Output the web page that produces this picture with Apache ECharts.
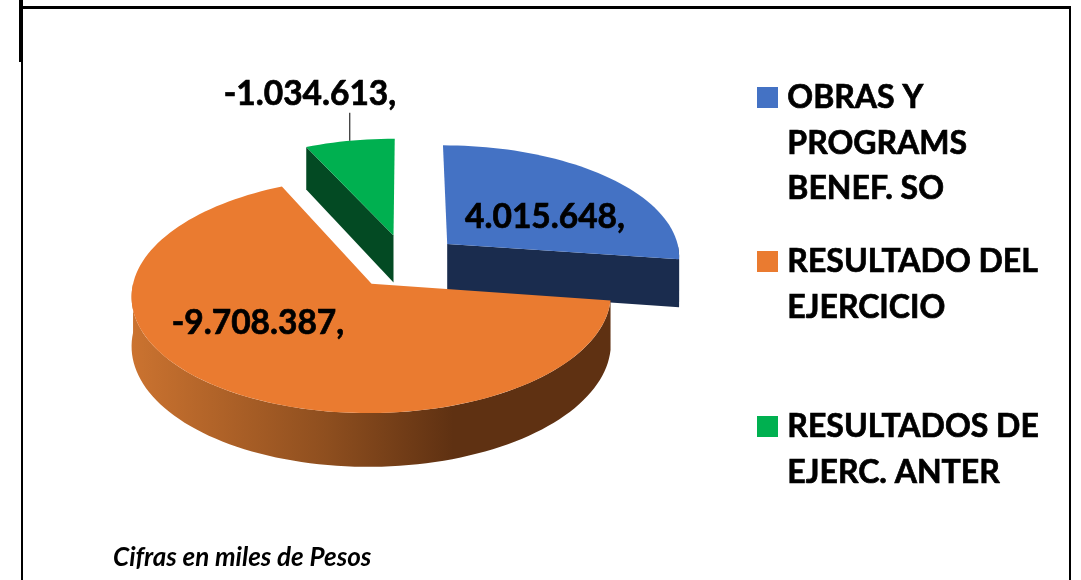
<!DOCTYPE html>
<html>
<head>
<meta charset="utf-8">
<style>
  html, body { margin: 0; background: #fff; }
  #chart { width: 1081px; height: 580px; }
</style>
<script src="https://cdn.jsdelivr.net/npm/echarts@6/dist/echarts.min.js"></script>
</head>
<body>
<div id="chart"></div>
<script>
const categorias = ['OBRAS Y\nPROGRAMS\nBENEF. SO', 'RESULTADO DEL\nEJERCICIO', 'RESULTADOS DE\nEJERC. ANTER'];
const valores = [4015648, -9708387, -1034613];
const etiquetas = ['4.015.648,', '-9.708.387,', '-1.034.613,'];
const colores = ['#4472c4', '#ea7b30', '#00b050'];
const nota = 'Cifras en miles de Pesos';

const FONT = 'Lato, Carlito, sans-serif';
const INK = '#000';
// Lato bold is a bit lighter than the original face
const heavy = {fill: INK, stroke: INK, lineWidth: 0.7};

// 3D view of the pie
const view = {cx: 405.5, cy: 261.5, rx: 234, ry: 113.5, persp: 0.1, depth: 48, explode: 0.24};
const wallFills = [
  '#1a2c4e',
  new echarts.graphic.LinearGradient(131, 0, 453, 0, [
    {offset: 0, color: '#cb7330'},
    {offset: 0.6, color: '#8f4f1f'},
    {offset: 1, color: '#5f3112'}
  ], true),
  '#034a23'
];
// paint order: back slices first
const stacking = [2, 3, 1];
const labelPos = [[545, 217], [258, 323], [310, 94]];
const legendTop = [87, 251, 416];

const total = valores.reduce((sum, v) => sum + Math.abs(v), 0);
let acc = 0;
const slices = valores.map(v => {
  const start = acc;
  acc += Math.abs(v) / total * 360;
  return {start, end: acc};
});

const rad = deg => deg * Math.PI / 180;

// X right, Y towards the viewer, angle clockwise from the back of the pie
const project = (X, Y, down) => {
  const s = 1 + view.persp * Y;
  return [
    view.cx + view.rx * X * s,
    view.cy + view.ry * Y * s + (down ? view.depth * s : 0)
  ];
};

const pointOf = (slice, radius, deg, down) => {
  const mid = rad((slice.start + slice.end) / 2);
  const X = view.explode * Math.sin(mid) + radius * Math.sin(rad(deg));
  const Y = -view.explode * Math.cos(mid) - radius * Math.cos(rad(deg));
  return project(X, Y, down);
};

const arcOf = (slice, from, to, down) => {
  const pts = [];
  const steps = Math.max(2, Math.ceil((to - from) / 2));
  for (let i = 0; i <= steps; i++) {
    pts.push(pointOf(slice, 1, from + (to - from) * i / steps, down));
  }
  return pts;
};

const renderSlice = (params) => {
  const i = params.dataIndex;
  const slice = slices[i];
  const z2 = stacking[i];
  const children = [];
  const poly = (points, fill) => children.push({
    type: 'polygon', z2, shape: {points}, style: {fill, stroke: null}
  });

  // cut faces that look at the viewer
  [[slice.start, -90], [slice.end, 90]].forEach(([deg, turn]) => {
    if (-Math.cos(rad(deg + turn)) > 0.01) {
      poly([
        pointOf(slice, 0, deg), pointOf(slice, 1, deg),
        pointOf(slice, 1, deg, true), pointOf(slice, 0, deg, true)
      ], wallFills[i]);
    }
  });

  // outer wall, front half only
  const from = Math.max(slice.start, 90);
  const to = Math.min(slice.end, 270);
  if (to > from) {
    poly(arcOf(slice, from, to).concat(arcOf(slice, from, to, true).reverse()), wallFills[i]);
  }

  // top face
  poly([pointOf(slice, 0, slice.start)].concat(arcOf(slice, slice.start, slice.end)), colores[i]);

  // leader line for the small slice
  if (Math.abs(valores[i]) / total < 0.1) {
    const rim = pointOf(slice, 1, (slice.start + slice.end) / 2);
    children.push({
      type: 'line', z2,
      shape: {x1: rim[0], y1: rim[1], x2: rim[0], y2: rim[1] - 28},
      style: {stroke: INK, lineWidth: 1}
    });
  }

  children.push({
    type: 'text', z2: 10,
    style: {
      ...heavy,
      x: labelPos[i][0], y: labelPos[i][1], text: etiquetas[i],
      font: 'bold 33.5px ' + FONT, align: 'center', verticalAlign: 'middle'
    }
  });
  return {type: 'group', children};
};

// legend: swatch next to the first line of a wrapped name
const legendItems = categorias.flatMap((name, i) => [
  {type: 'rect', left: 757, top: legendTop[i], shape: {width: 21, height: 21}, style: {fill: colores[i]}},
  {
    type: 'text', left: 787, top: legendTop[i] - 12,
    style: {...heavy, text: name, font: 'bold 32px ' + FONT, lineHeight: 45.5}
  }
]);

const frame = [
  {type: 'rect', shape: {x: 21, y: 6, width: 1050, height: 3}, style: {fill: INK}},
  {type: 'rect', shape: {x: 19, y: 0, width: 4, height: 62}, style: {fill: INK}},
  {type: 'rect', shape: {x: 21, y: 62, width: 2, height: 518}, style: {fill: INK}},
  {type: 'rect', shape: {x: 1069, y: 6, width: 2, height: 574}, style: {fill: INK}}
];

const chart = echarts.init(document.getElementById('chart'));
chart.setOption({
  backgroundColor: '#fff',
  animation: false,
  graphic: frame.concat(legendItems, [{
    type: 'text', left: 113, top: 545,
    style: {text: nota, fill: INK, font: 'italic bold 26px ' + FONT}
  }]),
  series: [{
    type: 'custom',
    coordinateSystem: 'none',
    silent: true,
    renderItem: renderSlice,
    data: valores
  }]
});
</script>
</body>
</html>
